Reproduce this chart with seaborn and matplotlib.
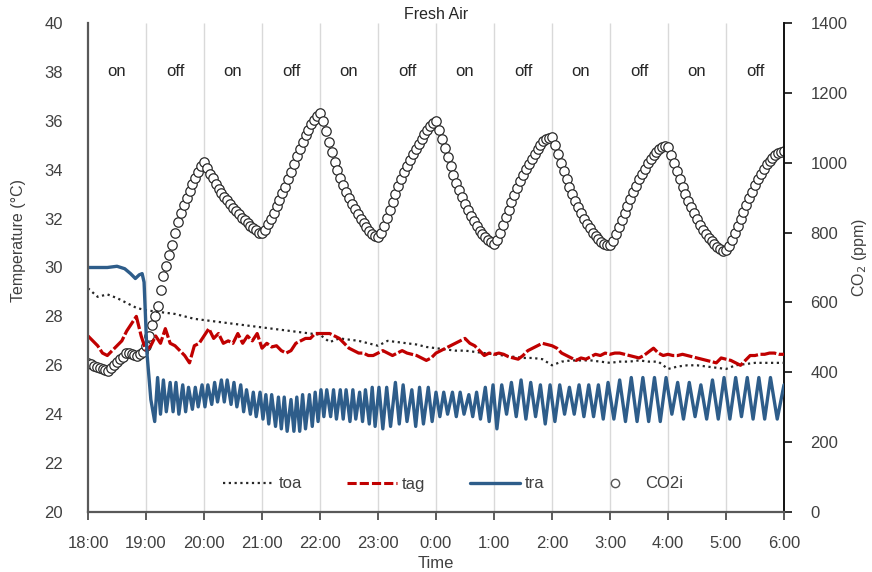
import numpy as np
import pandas as pd
import matplotlib
matplotlib.use("Agg")
import matplotlib.pyplot as plt
from matplotlib.lines import Line2D
import seaborn as sns

# ---------------- data ----------------
hour_labels = ["18:00", "19:00", "20:00", "21:00", "22:00", "23:00", "0:00",
               "1:00", "2:00", "3:00", "4:00", "5:00", "6:00"]
fan_state = ["on", "off", "on", "off", "on", "off", "on", "off", "on", "off", "on", "off"]

# toa: every 10 minutes from 18:00
toa_vals = [29.15, 28.8, 28.9, 28.75, 28.55, 28.35, 28.25, 28.2, 28.15, 28.1,
            28.0, 27.9, 27.85, 27.8, 27.75, 27.7, 27.65, 27.6, 27.55, 27.5,
            27.45, 27.4, 27.35, 27.3, 27.25, 26.95, 27.1, 27.05, 27.0, 26.9,
            26.8, 27.0, 26.95, 26.9, 26.85, 26.75, 26.7, 26.65, 26.6, 26.6,
            26.55, 26.5, 26.45, 26.4, 26.35, 26.3, 26.3, 26.25, 26.0, 26.15,
            26.2, 26.2, 26.2, 26.15, 26.1, 26.15, 26.15, 26.2, 26.15, 26.15,
            25.85, 25.95, 26.0, 26.0, 25.95, 25.9, 25.85, 26.0, 26.05, 26.1,
            26.1, 26.1, 26.1]

# tag: every 5 minutes from 18:00
tag_vals = [27.2, 27.0, 26.8, 26.5, 26.4, 26.6, 26.8, 27.0, 27.4, 27.7, 28.0, 27.2,
            26.6, 26.8, 27.2, 26.9, 27.5, 26.9, 26.8, 26.6, 26.4, 26.1, 26.8, 26.9,
            27.2, 27.5, 27.1, 27.3, 26.9, 27.0, 26.9, 27.3, 26.9, 27.2, 27.0, 27.3,
            26.7, 26.9, 26.75, 26.8, 26.6, 26.5, 26.6, 26.9, 27.0, 27.1, 27.1, 27.3,
            27.3, 27.3, 27.3, 27.2, 27.1, 26.9, 26.7, 26.6, 26.5, 26.5, 26.4, 26.4,
            26.5, 26.6, 26.5, 26.4, 26.5, 26.6, 26.5, 26.45, 26.4, 26.3, 26.2, 26.3,
            26.5, 26.6, 26.7, 26.8, 26.9, 27.0, 27.1, 26.9, 26.8, 26.6, 26.4, 26.5,
            26.45, 26.5, 26.45, 26.35, 26.3, 26.25, 26.4, 26.6, 26.7, 26.8, 26.9, 26.85,
            26.8, 26.7, 26.5, 26.4, 26.3, 26.2, 26.3, 26.25, 26.35, 26.45, 26.4, 26.5,
            26.45, 26.5, 26.5, 26.45, 26.4, 26.35, 26.3, 26.4, 26.55, 26.7, 26.5, 26.4,
            26.45, 26.4, 26.4, 26.45, 26.4, 26.35, 26.3, 26.25, 26.2, 26.15, 26.1, 26.3,
            26.25, 26.2, 26.1, 26.0, 26.2, 26.4, 26.4, 26.45, 26.45, 26.5, 26.5, 26.45,
            26.45]

# tra: turning points (minutes after 18:00, degC)
tra_min = [0, 10, 20, 30, 38, 44, 49, 53, 56, 58, 61, 65, 69, 72,
           75, 78, 81, 85, 88, 91, 94, 98, 101, 104, 108, 111, 114, 118,
           121, 124, 128, 131, 134, 138, 141, 144, 148, 151, 154, 158, 161, 164, 168, 171, 174, 178,
           181, 184, 187, 190, 194, 197, 200, 203, 206, 210, 213, 216, 219, 222, 225, 229, 232, 235, 238,
           241, 244, 247, 251, 254, 257, 261, 264, 267, 271, 274, 277, 281, 284, 287, 291, 294, 297,
           301, 305, 309, 313, 318, 322, 326, 330, 335, 339, 343, 347, 352, 356, 360,
           364, 368, 372, 377, 381, 385, 389, 394, 398, 402, 406, 411, 415, 419,
           423, 428, 433, 438, 443, 448, 453, 458, 463, 468, 473, 478,
           483, 488, 493, 498, 503, 508, 513, 518, 523, 528, 533, 538,
           544, 550, 556, 562, 568, 574, 580, 586, 592, 598,
           604, 610, 616, 622, 628, 634, 640, 646, 652, 658,
           664, 670, 676, 682, 688, 694, 700, 706, 713, 720]
tra_vals = [30.0, 30.0, 30.0, 30.05, 29.95, 29.75, 29.55, 29.7, 29.75, 29.4, 26.5, 24.6, 23.7, 25.5,
            24.0, 25.4, 24.1, 25.3, 24.1, 25.3, 24.0, 25.2, 24.1, 25.1, 24.2, 25.1, 24.3, 25.2,
            24.3, 25.2, 24.4, 25.3, 24.5, 25.4, 24.5, 25.4, 24.4, 25.3, 24.3, 25.2, 24.1, 25.0, 24.0, 24.9, 23.9, 24.9,
            23.8, 24.8, 23.6, 24.8, 23.5, 24.7, 23.4, 24.7, 23.3, 24.6, 23.3, 24.7, 23.3, 24.8, 23.4, 24.8, 23.5, 24.9, 23.7,
            25.0, 23.9, 25.0, 23.9, 25.0, 23.8, 25.0, 23.8, 25.0, 23.7, 25.0, 23.8, 24.9, 23.7, 25.0, 23.6, 25.1, 23.5,
            25.1, 23.4, 25.1, 23.5, 25.3, 23.6, 25.2, 23.7, 25.0, 23.5, 25.1, 23.6, 25.1, 23.7, 24.9,
            23.9, 24.9, 24.0, 24.9, 23.9, 24.9, 24.0, 24.8, 23.9, 24.9, 23.8, 25.1, 23.7, 25.2,
            23.4, 25.2, 24.0, 25.3, 23.9, 25.4, 23.8, 25.3, 23.9, 25.2, 23.6, 25.2,
            23.7, 25.2, 24.0, 25.1, 24.0, 25.2, 23.9, 25.2, 23.9, 25.2, 23.8, 25.3,
            23.8, 25.4, 23.7, 25.5, 23.7, 25.5, 23.7, 25.5, 23.7, 25.5,
            24.0, 25.3, 23.8, 25.3, 23.9, 25.2, 23.8, 25.4, 23.8, 25.5,
            23.8, 25.5, 23.9, 25.5, 23.8, 25.5, 23.8, 25.5, 23.8, 25.2]

# CO2i: every 3 minutes from 18:00 (ppm)
co2_vals = [427, 423, 418, 415, 412, 410, 406, 405, 412, 422, 430, 437, 445, 454, 456, 452, 449, 448, 452, 458,
            475, 505, 535, 560, 590, 635, 675, 705, 735, 765, 800, 830, 855, 878, 900, 920, 938, 955, 972, 990,
            1002, 985, 968, 955, 940, 925, 912, 903, 893, 882, 870, 862, 852, 843, 835, 828, 820, 813, 806, 800,
            798, 808, 825, 840, 855, 875, 893, 912, 930, 952, 972, 995, 1018, 1040, 1060, 1078, 1095, 1110, 1122, 1133,
            1143, 1118, 1090, 1060, 1030, 1002, 978, 955, 935, 915, 898, 882, 867, 853, 840, 828, 815, 805, 797, 791,
            788, 800, 820, 842, 865, 888, 910, 932, 952, 972, 990, 1008, 1025, 1040, 1055, 1068, 1082, 1095, 1105, 1114,
            1118, 1095, 1068, 1042, 1015, 990, 965, 943, 922, 902, 883, 865, 848, 833, 818, 805, 795, 786, 778, 772,
            768, 780, 800, 822, 845, 865, 887, 908, 928, 948, 965, 982, 997, 1012, 1026, 1040, 1052, 1062, 1068, 1072,
            1073, 1050, 1025, 1000, 975, 952, 930, 910, 890, 872, 856, 840, 825, 812, 800, 790, 781, 774, 768, 765,
            763, 775, 795, 815, 835, 856, 877, 897, 915, 933, 952, 968, 983, 998, 1010, 1022, 1032, 1040, 1045, 1047,
            1045, 1022, 998, 975, 952, 930, 910, 890, 872, 855, 838, 822, 808, 796, 785, 775, 766, 758, 752, 748,
            750, 762, 780, 800, 820, 840, 860, 880, 898, 917, 935, 952, 968, 982, 995, 1005, 1014, 1021, 1027, 1031,
            1034]

toa_df = pd.DataFrame({"t": np.arange(len(toa_vals)) * 10, "v": toa_vals})
tag_df = pd.DataFrame({"t": np.arange(len(tag_vals)) * 5, "v": tag_vals})
tra_df = pd.DataFrame({"t": tra_min, "v": tra_vals})
co2_df = pd.DataFrame({"t": np.arange(len(co2_vals)) * 3, "v": co2_vals})

# ---------------- style ----------------
sns.set_theme(style="white")
plt.rcParams["font.family"] = ["Liberation Sans", "DejaVu Sans"]

TXT = "#404040"
C_TOA = "#262626"
C_TAG = "#c00000"
C_TRA = "#2e5d8a"

fig = plt.figure(figsize=(8.72, 5.72), dpi=100)
ax = fig.add_axes([88 / 872, 1 - 512 / 572, 696 / 872, 489 / 572])
ax2 = ax.twinx()
ax.set_zorder(ax2.get_zorder() + 1)
ax.patch.set_visible(False)
ax2.patch.set_visible(True)
ax2.patch.set_facecolor("white")

# vertical grid (hour ticks) behind everything
hour_pos = np.arange(len(hour_labels)) * 60
ax2.vlines(hour_pos[1:-1], 0, 1400, color="#d9d9d9", lw=1.0, zorder=0)

# CO2 on secondary axis
sns.scatterplot(data=co2_df, x="t", y="v", ax=ax2, s=46, marker="o",
                color="white", edgecolor="#2a2a2a", linewidth=0.9, zorder=2,
                legend=False)

# temperatures
sns.lineplot(data=toa_df, x="t", y="v", ax=ax, color=C_TOA, lw=1.6,
             linestyle=(0, (1, 1.6)), legend=False)
sns.lineplot(data=tag_df, x="t", y="v", ax=ax, color=C_TAG, lw=2.3,
             linestyle=(0, (5, 0.8)), legend=False)
sns.lineplot(data=tra_df, x="t", y="v", ax=ax, color=C_TRA, lw=2.4,
             legend=False)

# axes limits & ticks
ax.set_xlim(0, 720)
ax.set_ylim(20, 40)
ax2.set_ylim(0, 1400)
ax.set_xticks(hour_pos)
ax.set_xticklabels(hour_labels)
ax.set_yticks(np.arange(20, 41, 2))
ax2.set_yticks(np.arange(0, 1401, 200))

ax.tick_params(axis="x", direction="out", length=6, width=1.2, color="#404040",
               pad=11, labelsize=12, labelcolor=TXT, bottom=True)
ax.tick_params(axis="y", length=0, pad=18, labelsize=12, labelcolor=TXT, left=True)
ax2.tick_params(axis="y", direction="out", length=6, width=1.2, color="#111111",
                pad=13, labelsize=12, labelcolor=TXT, right=True)

for a in (ax, ax2):
    a.spines["top"].set_visible(False)
ax.spines["left"].set_color("#595959")
ax.spines["left"].set_linewidth(1.6)
ax.spines["bottom"].set_color("#595959")
ax.spines["bottom"].set_linewidth(1.6)
ax.spines["right"].set_visible(False)
ax2.spines["left"].set_visible(False)
ax2.spines["bottom"].set_visible(False)
ax2.spines["right"].set_color("#111111")
ax2.spines["right"].set_linewidth(1.4)

ax.set_xlabel("Time", fontsize=12, color=TXT, labelpad=4)
ax.set_ylabel("Temperature (°C)", fontsize=11.5, color=TXT)
ax.yaxis.set_label_coords((26 - 88) / 696, (512 - 240) / 489)
ax2.set_ylabel("CO$_2$ (ppm)", fontsize=11.5, color=TXT, rotation=90)
ax2.yaxis.set_label_coords((850 - 88) / 696, (512 - 258) / 489)

ax.set_title("Fresh Air", fontsize=11.5, color="#262626", pad=3)

# on / off labels
for i, s in enumerate(fan_state):
    ax.text(hour_pos[i] + 30, 38.0, s, ha="center", va="center",
            fontsize=12, color="#262626")

# legend
handles = [
    Line2D([], [], color=C_TOA, lw=1.6, linestyle=(0, (1, 1.6))),
    Line2D([], [], color=C_TAG, lw=2.2, linestyle=(0, (3, 1))),
    Line2D([], [], color=C_TRA, lw=2.4),
    Line2D([], [], marker="o", linestyle="None", markerfacecolor="white",
           markeredgecolor="#555555", markersize=6, markeredgewidth=1.0),
]
leg = ax.legend(handles, ["toa", "tag", "tra", "CO2i"], ncol=4, frameon=False,
                loc="center", bbox_to_anchor=((453 - 88) / 696, (512 - 484) / 489),
                fontsize=12, handlelength=3.0, handletextpad=0.3,
                columnspacing=2.7)
for t in leg.get_texts():
    t.set_color(TXT)

fig.savefig("out.png", dpi=100, facecolor="white")
